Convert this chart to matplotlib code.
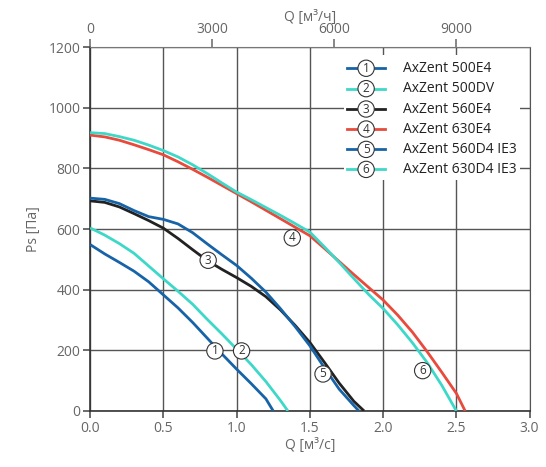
import matplotlib.pyplot as plt
from matplotlib.patches import Rectangle

plt.rcParams['font.family'] = ['Open Sans', 'DejaVu Sans']

# fan curves: Q [m3/s] vs Ps [Pa]
q1 = [0, 0.1, 0.2, 0.3, 0.4, 0.5, 0.6, 0.7, 0.8, 0.9, 1.0, 1.1, 1.2, 1.25]
p1 = [549, 518, 490, 461, 426, 383, 340, 292, 240, 188, 138, 90, 40, 0]

q2 = [0, 0.1, 0.2, 0.3, 0.4, 0.5, 0.6, 0.7, 0.8, 0.9, 1.0, 1.1, 1.2, 1.3, 1.35]
p2 = [604, 580, 552, 520, 478, 436, 395, 352, 302, 254, 204, 153, 97, 34, 0]

q3 = [0, 0.1, 0.2, 0.3, 0.4, 0.5, 0.6, 0.7, 0.8, 0.9, 1.0, 1.1, 1.2, 1.3, 1.4,
      1.5, 1.6, 1.7, 1.8, 1.87]
p3 = [693, 688, 673, 651, 628, 603, 569, 532, 496, 467, 440, 411, 377, 333, 282,
      226, 160, 92, 32, 0]

q4 = [0, 0.1, 0.2, 0.3, 0.4, 0.5, 0.6, 0.7, 0.8, 0.9, 1.0, 1.1, 1.2, 1.3,
      1.4, 1.5, 1.6, 1.7, 1.8, 1.9, 2.0, 2.1, 2.2, 2.3, 2.4, 2.5, 2.56]
p4 = [910, 904, 893, 878, 862, 845, 822, 797, 771, 744, 717, 690, 662, 634,
      606, 578, 536, 493, 450, 408, 366, 316, 260, 196, 128, 58, 0]

q5 = [0, 0.1, 0.2, 0.3, 0.4, 0.5, 0.6, 0.7, 0.8, 0.9, 1.0, 1.1, 1.2, 1.3, 1.4,
      1.5, 1.6, 1.7, 1.8, 1.835]
p5 = [702, 698, 684, 661, 641, 632, 617, 588, 551, 515, 480, 438, 392, 337, 278,
      215, 142, 72, 18, 0]

q6 = [0, 0.1, 0.2, 0.3, 0.4, 0.5, 0.6, 0.7, 0.8, 0.9, 1.0, 1.1, 1.2, 1.3,
      1.4, 1.5, 1.6, 1.7, 1.8, 1.9, 2.0, 2.1, 2.2, 2.3, 2.4, 2.5]
p6 = [918, 915, 905, 893, 877, 859, 838, 812, 783, 752, 722, 697, 671, 645,
      618, 590, 541, 490, 437, 385, 338, 284, 225, 160, 85, 0]

curves = [(q1, p1), (q2, p2), (q3, p3), (q4, p4), (q5, p5), (q6, p6)]
names = ['AxZent 500E4', 'AxZent 500DV', 'AxZent 560E4', 'AxZent 630E4',
         'AxZent 560D4 IE3', 'AxZent 630D4 IE3']
colors = ['#1763a8', '#3dd8c8', '#222222', '#e84a3c', '#1763a8', '#3dd8c8']
# where the circled numbers sit on the curves
tag_q = [0.852, 1.034, 0.806, 1.38, 1.59, 2.27]
tag_p = [198, 198, 497, 571, 122, 133]

x_ticks = [0, 0.5, 1.0, 1.5, 2.0, 2.5, 3.0]
y_ticks = [0, 200, 400, 600, 800, 1000, 1200]
top_ticks = [0, 3000, 6000, 9000]

fig = plt.figure(figsize=(5.46, 4.67), dpi=100)
ax = fig.add_axes([0.165, 0.12, 0.805, 0.779])

for (q, p), c in zip(curves, colors):
    ax.plot(q, p, color=c, lw=2.0, zorder=3, solid_capstyle='butt',
            solid_joinstyle='round')

circ = dict(boxstyle='circle,pad=0.14', fc='white', ec='#333333', lw=0.8)
for i in range(6):
    ax.text(tag_q[i], tag_p[i], str(i + 1), ha='center', va='center',
            fontsize=8.5, color='#333333', bbox=circ, zorder=5)

ax.set_xlim(0, 3)
ax.set_ylim(0, 1200)
ax.set_xticks(x_ticks)
ax.set_xticklabels([f'{v:.1f}' for v in x_ticks])
ax.set_yticks(y_ticks)
ax.grid(True, color='#555555', lw=1.0)
ax.set_axisbelow(True)
ax.tick_params(direction='out', length=5, width=1.1, color='#444444',
               labelcolor='#666666', labelsize=10, pad=2)
for s in ['left', 'bottom']:
    ax.spines[s].set_color('#333333')
    ax.spines[s].set_linewidth(1.2)
ax.spines['right'].set_color('#555555')
ax.spines['top'].set_color('#777777')
ax.set_xlabel('Q [м³/с]', color='#666666', fontsize=10, labelpad=2)
ax.set_ylabel('Ps [Па]', color='#666666', fontsize=10, labelpad=5)

ax2 = ax.twiny()
ax2.set_xlim(0, 3 * 3600)
ax2.set_xticks(top_ticks)
ax2.tick_params(direction='out', length=6, width=1.1, color='#666666',
                labelcolor='#666666', labelsize=10, pad=1)
for s in ax2.spines.values():
    s.set_visible(False)
ax2.set_xlabel('Q [м³/ч]', color='#666666', fontsize=10, labelpad=1)

# legend drawn by hand: line with circled number, then name
ax.add_patch(Rectangle((0.578, 0.635), 0.4, 0.343, transform=ax.transAxes,
                       fc='white', ec='none', zorder=2.5))
rows = [0.942, 0.886, 0.830, 0.775, 0.719, 0.664]
for i in range(6):
    ax.plot([0.584, 0.672], [rows[i], rows[i]], transform=ax.transAxes,
            color=colors[i], lw=2.0, zorder=4)
    ax.text(0.628, rows[i], str(i + 1), transform=ax.transAxes, ha='center',
            va='center', fontsize=8.5, color='#333333', bbox=circ, zorder=5)
    ax.text(0.711, rows[i], names[i], transform=ax.transAxes, ha='left',
            va='center', fontsize=10, color='#222222', zorder=5)

fig.savefig('out.png', dpi=100)
